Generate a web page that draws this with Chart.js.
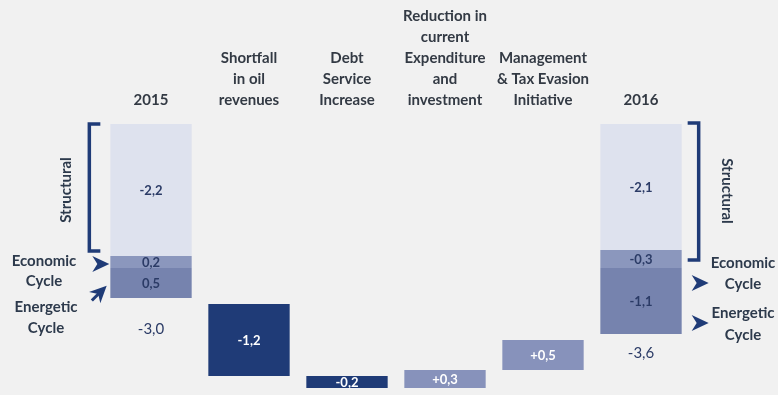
<!DOCTYPE html>
<html>
<head>
<meta charset="utf-8">
<script src="https://cdn.jsdelivr.net/npm/chart.js@4.4.1/dist/chart.umd.min.js"></script>
<style>
body{margin:0;background:#f1f1f1;}
#wrap{width:778px;height:395px;position:relative;}
</style>
</head>
<body>
<div id="wrap"><canvas id="Chart1HTML"></canvas></div>
<script>
// columns of the bridge, 2015 deficit to 2016 deficit (% of GDP)
let CATS=['2015',['Shortfall','in oil','revenues'],['Debt','Service','Increase'],['Reduction in','current','Expenditure','and','investment'],['Management','& Tax Evasion','Initiative'],'2016']
let STRUCTURAL=[-2.2,null,null,null,null,-2.1]
let ECONOMIC=[0.2,null,null,null,null,-0.3]
let ENERGETIC=[0.5,null,null,null,null,-1.1]
let CHANGES=[null,-1.2,-0.2,0.3,0.5,null]
let TOTALS=[-3.0,null,null,null,null,-3.6]

let NAVY='#1f3b77',TXT='#2b3b66',NOTE='#2d3a4c'

function Fmt(v,plus){let s=Math.abs(v).toFixed(1).replace('.',',');if(v<0){return '-'+s}else if(plus){return '+'+s}else{return s}}

// stacked pieces of the two year columns, each going down by its size
let D_STR=[],D_ECO=[],D_ENE=[],D_CHG=[]
let RUN=TOTALS[0]
for(let i=0;i<CATS.length;i++){
	if(STRUCTURAL[i]!==null){
		let a=STRUCTURAL[i]
		let b=a-Math.abs(ECONOMIC[i])
		let c=b-Math.abs(ENERGETIC[i])
		D_STR.push([0,a]);D_ECO.push([a,b]);D_ENE.push([b,c])
	}else{D_STR.push(null);D_ECO.push(null);D_ENE.push(null)}
	if(CHANGES[i]!==null){D_CHG.push([RUN,RUN+CHANGES[i]]);RUN+=CHANGES[i]}else{D_CHG.push(null)}
}
let CHG_COL=CHANGES.map(v=>v===null?'#000':(v<0?NAVY:'#8792bb'))

function Chevron(ctx,x,y,ang,tail){
	ctx.save();ctx.translate(x,y);ctx.rotate(ang)
	ctx.beginPath();ctx.moveTo(-8,-8);ctx.lineTo(9,0);ctx.lineTo(-8,8);ctx.lineTo(-3,0);ctx.closePath()
	ctx.fillStyle=NAVY;ctx.fill()
	if(tail){ctx.strokeStyle=NAVY;ctx.lineWidth=3;ctx.beginPath();ctx.moveTo(-12,0);ctx.lineTo(2,0);ctx.stroke()}
	ctx.restore()
}

function Bracket(ctx,x,y1,y2,dir){
	ctx.save();ctx.strokeStyle=NAVY;ctx.lineWidth=3.5;ctx.lineCap='butt'
	ctx.beginPath();ctx.moveTo(x+dir*11,y1);ctx.lineTo(x,y1);ctx.lineTo(x,y2);ctx.lineTo(x+dir*11,y2);ctx.stroke();ctx.restore()
}

function Txt(ctx,s,x,y,font,col){ctx.font=font;ctx.fillStyle=col;ctx.textAlign='center';ctx.textBaseline='middle';ctx.fillText(s,x,y)}

// labels inside bars, totals, brackets and side notes
const notesPlugin={
id:'notes',
afterDatasetsDraw(chart){
	let ctx=chart.ctx,ys=chart.scales.y
	ctx.save()
	chart.data.datasets.forEach((ds,di)=>{
		let meta=chart.getDatasetMeta(di)
		ds.data.forEach((d,i)=>{
			if(!d){return}
			let el=meta.data[i]
			let cy=(ys.getPixelForValue(d[0])+ys.getPixelForValue(d[1]))/2
			let v=ds.vals[i]
			let col=ds.labelCol?ds.labelCol(v):TXT
			Txt(ctx,Fmt(v,ds.plus),el.x,cy+1,'bold 13px Lato',col)
		})
	})
	// totals under the year columns
	let m0=chart.getDatasetMeta(2)
	TOTALS.forEach((t,i)=>{
		if(t===null){return}
		let bot=ys.getPixelForValue(D_ENE[i][1])
		Txt(ctx,Fmt(t),m0.data[i].x,bot+(i===0?31:19),'15px Lato',TXT)
	})
	let F='bold 15px Lato'
	// 2015 side
	let L=m0.data[0],lx=L.x-L.width/2
	let top0=ys.getPixelForValue(0),s0=ys.getPixelForValue(STRUCTURAL[0])
	Bracket(ctx,lx-21,top0,s0-5,1)
	ctx.save();ctx.translate(lx-44,(top0+s0)/2);ctx.rotate(-Math.PI/2);Txt(ctx,'Structural',0,0,F,NOTE);ctx.restore()
	let e0=ys.getPixelForValue(D_ECO[0][1])
	Chevron(ctx,lx-10,s0+8,0,false)
	Txt(ctx,'Economic',44,s0+5,F,NOTE)
	Txt(ctx,'Cycle',44,s0+25,F,NOTE)
	Chevron(ctx,lx-10,e0+24,-Math.PI/4,true)
	Txt(ctx,'Energetic',46,e0+39,F,NOTE)
	Txt(ctx,'Cycle',46,e0+60,F,NOTE)
	// 2016 side
	let R=m0.data[5],rx=R.x+R.width/2
	let s5=ys.getPixelForValue(STRUCTURAL[5])
	Bracket(ctx,rx+17,top0-1,s5+10,-1)
	ctx.save();ctx.translate(rx+45,(top0+s5)/2+4);ctx.rotate(Math.PI/2);Txt(ctx,'Structural',0,0,F,NOTE);ctx.restore()
	Chevron(ctx,rx+18,s5+33,0,false)
	Txt(ctx,'Economic',743,s5+13,F,NOTE)
	Txt(ctx,'Cycle',743,s5+34,F,NOTE)
	Chevron(ctx,rx+18,s5+73,0,false)
	Txt(ctx,'Energetic',743,s5+63,F,NOTE)
	Txt(ctx,'Cycle',743,s5+85,F,NOTE)
	ctx.restore()
}
}

let Chart1=new Chart(
document.getElementById('Chart1HTML'),
{
type:'bar',
data:{
labels:CATS,
datasets:[
{data:D_STR,vals:STRUCTURAL,backgroundColor:'#dee2ee'},
{data:D_ECO,vals:ECONOMIC,backgroundColor:'#8b97bd'},
{data:D_ENE,vals:ENERGETIC,backgroundColor:'#7683ae'},
{data:D_CHG,vals:CHANGES,plus:true,backgroundColor:CHG_COL,labelCol:()=>'#ffffff'}
]
},
options:{
responsive:true,
maintainAspectRatio:false,
animation:false,
layout:{padding:{left:102,right:88,top:0,bottom:1}},
datasets:{bar:{grouped:false,categoryPercentage:1,barPercentage:0.83,borderWidth:0}},
scales:{
x:{position:'top',grid:{display:false,drawTicks:false},border:{display:false},
	ticks:{padding:13,color:'#333a44',font:{family:'Lato',size:15,weight:'bold',lineHeight:1.4},maxRotation:0,autoSkip:false},
	afterFit(scale){scale.height=124}},
y:{display:false,min:-4.5,max:0}
},
plugins:{legend:{display:false},tooltip:{enabled:false}}
},
plugins:[notesPlugin]
}
);
</script>
</body>
</html>
